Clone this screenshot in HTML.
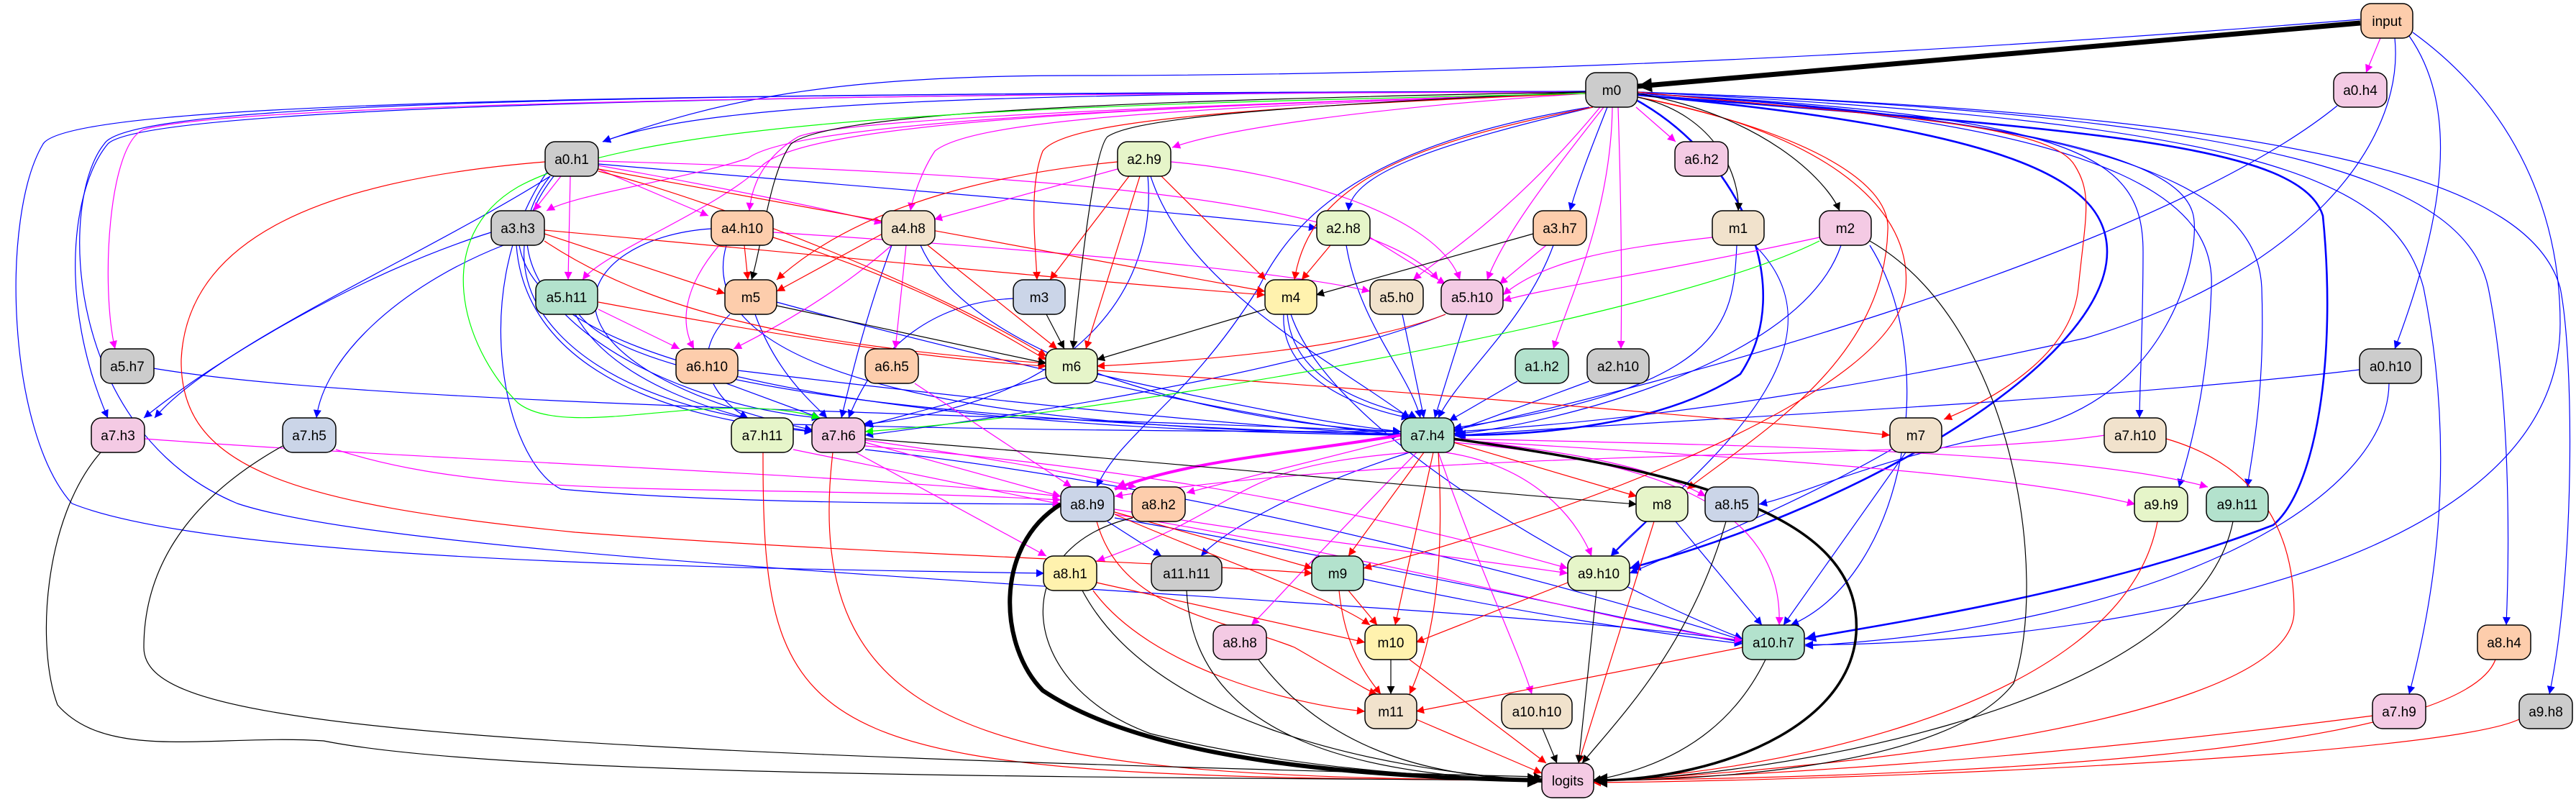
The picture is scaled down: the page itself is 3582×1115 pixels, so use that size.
<!DOCTYPE html>
<html><head><meta charset="utf-8"><style>html,body{margin:0;padding:0;background:#fff}svg{display:block}</style></head><body>
<svg width="3582" height="1115" viewBox="0 0 3582 1115" xmlns="http://www.w3.org/2000/svg">
<defs>
<marker id="B" viewBox="0 0 10 10" refX="10" refY="5" markerWidth="15" markerHeight="11" markerUnits="userSpaceOnUse" orient="auto"><path d="M0,0L10,5L0,10z" fill="#0000ff"/></marker>
<marker id="M" viewBox="0 0 10 10" refX="10" refY="5" markerWidth="15" markerHeight="11" markerUnits="userSpaceOnUse" orient="auto"><path d="M0,0L10,5L0,10z" fill="#ff00ff"/></marker>
<marker id="R" viewBox="0 0 10 10" refX="10" refY="5" markerWidth="15" markerHeight="11" markerUnits="userSpaceOnUse" orient="auto"><path d="M0,0L10,5L0,10z" fill="#ff0000"/></marker>
<marker id="K" viewBox="0 0 10 10" refX="10" refY="5" markerWidth="15" markerHeight="11" markerUnits="userSpaceOnUse" orient="auto"><path d="M0,0L10,5L0,10z" fill="#000"/></marker>
<marker id="G" viewBox="0 0 10 10" refX="10" refY="5" markerWidth="15" markerHeight="11" markerUnits="userSpaceOnUse" orient="auto"><path d="M0,0L10,5L0,10z" fill="#00ff00"/></marker>
<marker id="KL" viewBox="0 0 10 10" refX="10" refY="5" markerWidth="24" markerHeight="20" markerUnits="userSpaceOnUse" orient="auto"><path d="M0,0L10,5L0,10z" fill="#000"/></marker>
<marker id="ML" viewBox="0 0 10 10" refX="10" refY="5" markerWidth="20" markerHeight="16" markerUnits="userSpaceOnUse" orient="auto"><path d="M0,0L10,5L0,10z" fill="#ff00ff"/></marker>
<marker id="BL" viewBox="0 0 10 10" refX="10" refY="5" markerWidth="20" markerHeight="15" markerUnits="userSpaceOnUse" orient="auto"><path d="M0,0L10,5L0,10z" fill="#0000ff"/></marker>
</defs>

<g fill="none" stroke-width="1.2">
<g stroke="#0000ff" marker-end="url(#B)">
<path d="M3282,27 C2500,90 1900,105 1500,105 C1150,105 1000,140 838,197"/>
<path d="M3330,53 C3345,200 3200,380 2900,470 C2500,560 2200,590 2023,600"/>
<path d="M3350,50 C3420,150 3400,300 3330,485"/>
<path d="M3355,45 C3500,150 3560,300 3560,450 C3560,850 2700,900 2510,896"/>
<path d="M3250,147 C3000,350 2300,540 2021,598"/>
<path d="M3281,514 C2900,560 2200,590 2023,606"/>
<path d="M3322,533 C3320,700 3000,870 2510,898"/>
<path d="M2205,127 C1500,130 1000,135 838,197"/>
<path d="M2205,127 C1000,130 200,150 150,200 C100,260 80,420 150,581"/>
<path d="M2205,127 C900,130 100,140 60,200 C0,300 10,600 100,700 C300,780 1000,790 1452,797"/>
<path d="M2205,127 C900,130 180,140 145,200 C80,280 90,600 330,700 C600,790 2000,830 2423,891"/>
<path d="M2215,149 C2000,200 1880,240 1875,293"/>
<path d="M2210,149 C1900,200 1800,300 1750,400 C1650,560 1560,600 1525,677"/>
<path d="M2235,149 C2215,200 2195,250 2183,293"/>
<path d="M2277,130 C2900,160 2980,220 2980,350 C2980,450 2975,550 2975,581"/>
<path d="M2277,130 C2950,170 3040,250 3050,300 C3060,350 3020,560 2800,600 C2600,640 2500,690 2446,701"/>
<path d="M2277,130 C3000,170 3080,300 3075,400 C3070,550 3040,640 3030,677"/>
<path d="M2277,130 C3050,170 3140,300 3145,400 C3150,550 3130,640 3125,677"/>
<path d="M2277,128 C3150,170 3330,250 3370,400 C3420,650 3380,850 3350,965"/>
<path d="M2277,128 C3200,160 3430,260 3460,400 C3490,550 3490,750 3485,869"/>
<path d="M2277,128 C3250,160 3520,260 3560,400 C3580,500 3580,800 3545,965"/>
<path d="M832,228 C1200,260 1600,290 1831,317"/>
<path d="M765,245 C600,350 300,480 215,581"/>
<path d="M760,240 C650,400 700,640 780,680 C1000,700 1300,700 1475,701"/>
<path d="M770,245 C650,400 800,560 1100,590 C1500,600 1800,600 1948,600"/>
<path d="M765,245 C640,400 900,560 1140,581"/>
<path d="M683,323 C500,380 300,500 200,581"/>
<path d="M700,341 C550,400 450,500 440,581"/>
<path d="M718,341 C730,500 900,580 1130,600"/>
<path d="M722,341 C760,560 1500,600 1948,605"/>
<path d="M989,318 C800,330 700,500 1130,598"/>
<path d="M1010,341 C950,550 1500,600 1948,603"/>
<path d="M1600,245 C1650,400 1850,500 1960,581"/>
<path d="M1596,245 C1610,400 1500,560 1200,590"/>
<path d="M1240,341 C1200,450 1180,540 1170,581"/>
<path d="M1280,341 C1350,500 1700,590 1948,600"/>
<path d="M1872,341 C1890,450 1960,520 1975,581"/>
<path d="M2160,341 C2120,450 2030,520 2000,581"/>
<path d="M2415,341 C2410,450 2400,540 2021,595"/>
<path d="M2440,341 C2600,500 2300,700 2240,773"/>
<path d="M2560,341 C2500,520 2100,600 2021,603"/>
<path d="M2600,341 C2700,500 2650,800 2490,869"/>
<path d="M1409,415 C1300,420 1220,480 1180,581"/>
<path d="M1785,437 C1780,530 1900,570 1960,581"/>
<path d="M1790,437 C1800,550 1950,570 1970,581"/>
<path d="M1795,437 C1850,600 2200,800 2423,888"/>
<path d="M1950,437 L1980,581"/>
<path d="M2040,437 L1995,581"/>
<path d="M2010,437 C1800,520 1400,580 1203,605"/>
<path d="M1080,420 C1300,480 1700,580 1948,605"/>
<path d="M1015,437 C950,500 1000,560 1040,581"/>
<path d="M1050,437 C1080,520 1130,560 1150,581"/>
<path d="M800,437 C850,530 1000,580 1130,600"/>
<path d="M805,437 C900,560 1500,590 1948,605"/>
<path d="M213,512 C500,560 1200,570 1948,600"/>
<path d="M1026,515 C1400,560 1700,590 1948,605"/>
<path d="M1010,533 L1140,581"/>
<path d="M1455,525 L1203,592"/>
<path d="M1525,520 C1700,560 1850,590 1948,600"/>
<path d="M2110,530 L2015,585"/>
<path d="M2210,530 L2021,600"/>
<path d="M1203,625 C1700,680 2200,820 2423,890"/>
<path d="M1960,629 C1800,680 1700,740 1670,773"/>
<path d="M2630,625 C2500,700 2350,760 2266,797"/>
<path d="M2650,629 L2480,869"/>
<path d="M1540,725 L1615,773"/>
<path d="M1550,720 C2000,800 2300,870 2423,893"/>
<path d="M2290,725 L2240,773"/>
<path d="M2330,725 L2450,869"/>
<path d="M1896,805 C2100,850 2300,880 2423,895"/>
</g>
<g stroke="#0000ff" stroke-width="2.6" marker-end="url(#BL)">
<path d="M2277,140 C2420,220 2500,400 2420,520 C2300,600 2100,605 2023,605"/>
<path d="M2277,132 C2900,180 3200,200 3230,300 C3250,500 3220,680 3161,730 C2900,830 2600,870 2510,888"/>
<path d="M2277,132 C2800,180 2930,250 2930,350 C2930,500 2600,700 2266,790"/>
</g>
<g stroke="#ff00ff" marker-end="url(#M)">
<path d="M3310,53 L3290,101"/>
<path d="M2205,128 C1000,130 300,150 200,180 C150,200 140,400 160,485"/>
<path d="M2205,130 C1900,150 1700,180 1630,205"/>
<path d="M2205,130 C1600,150 1350,170 1300,210 C1280,240 1268,280 1266,293"/>
<path d="M2205,130 C1500,150 1160,170 1110,190 C1060,220 1045,260 1042,293"/>
<path d="M2205,130 C1500,150 1100,175 1040,220 C950,250 800,270 760,293"/>
<path d="M2205,130 C1500,150 1120,175 1060,230 C1000,290 840,350 810,389"/>
<path d="M2225,149 C2100,300 2000,360 1965,389"/>
<path d="M2230,149 C2150,250 2090,330 2068,389"/>
<path d="M2242,149 C2240,300 2180,420 2160,485"/>
<path d="M2250,149 C2255,300 2255,420 2254,485"/>
<path d="M2275,149 L2330,197"/>
<path d="M780,245 L742,293"/>
<path d="M793,245 L790,389"/>
<path d="M832,235 L985,300"/>
<path d="M832,224 C1400,240 1900,270 2000,389"/>
<path d="M832,230 C1000,260 1150,290 1227,310"/>
<path d="M1000,341 C950,400 945,450 965,485"/>
<path d="M1075,323 C1500,350 1800,380 1905,405"/>
<path d="M1554,235 L1299,305"/>
<path d="M1628,225 C1800,240 2000,300 2030,389"/>
<path d="M1260,341 L1245,485"/>
<path d="M1240,341 C1150,420 1050,470 1020,485"/>
<path d="M1905,330 L2010,395"/>
<path d="M2150,341 L2085,395"/>
<path d="M2381,330 C2250,345 2150,360 2090,410"/>
<path d="M2530,330 C2300,380 2150,400 2090,418"/>
<path d="M832,430 L945,485"/>
<path d="M1272,533 L1490,677"/>
<path d="M201,610 C600,640 1200,660 1475,690"/>
<path d="M467,625 C700,700 1000,670 1475,695"/>
<path d="M1103,625 L1475,701"/>
<path d="M1203,615 L1475,690"/>
<path d="M1190,629 L1455,773"/>
<path d="M1203,620 C1700,660 2000,740 2180,790"/>
<path d="M1203,612 C1400,640 1500,660 1580,677"/>
<path d="M1948,610 L1650,685"/>
<path d="M1960,629 C1700,650 1750,700 1525,780"/>
<path d="M1970,629 C1850,750 1760,850 1740,869"/>
<path d="M2000,629 C2060,800 2110,900 2130,965"/>
<path d="M2010,629 C2150,650 2200,740 2213,773"/>
<path d="M2021,610 C2200,630 2300,650 2372,690"/>
<path d="M2021,612 C2500,640 2800,660 2969,701"/>
<path d="M2021,610 C2500,620 2900,630 3070,677"/>
<path d="M2021,615 C2300,640 2480,700 2474,869"/>
<path d="M2927,605 C2700,640 2000,620 1550,690"/>
<path d="M1550,708 C1800,750 2000,770 2180,797"/>
<path d="M1550,715 C2000,790 2300,880 2423,890"/>
</g>
<path d="M1948,605 C1800,630 1650,640 1550,680" stroke="#ff00ff" stroke-width="4" marker-end="url(#ML)"/>
<g stroke="#ff0000" marker-end="url(#R)">
<path d="M2205,130 C1700,150 1480,170 1450,210 C1430,260 1440,340 1442,389"/>
<path d="M2215,149 C1950,200 1820,260 1800,389"/>
<path d="M2277,135 C2500,180 2630,250 2625,320 C2620,500 2450,600 2346,680"/>
<path d="M2277,135 C2520,180 2660,280 2650,400 C2640,560 2100,740 1896,790"/>
<path d="M2277,128 C2600,160 2850,170 2885,230 C2910,270 2900,300 2890,400 C2880,500 2760,560 2703,583"/>
<path d="M832,235 C1200,300 1500,360 1759,405"/>
<path d="M832,238 C1000,280 1300,400 1455,495"/>
<path d="M758,225 C450,250 260,330 252,500 C250,650 400,700 800,740 C1200,770 1600,780 1825,797"/>
<path d="M757,325 L1008,408"/>
<path d="M757,320 C1200,360 1500,390 1759,410"/>
<path d="M757,335 C900,430 1100,480 1455,505"/>
<path d="M1035,341 L1040,389"/>
<path d="M1075,330 C1300,400 1400,470 1455,500"/>
<path d="M1554,225 C1400,240 1200,280 1080,389"/>
<path d="M1570,245 L1460,389"/>
<path d="M1585,245 L1510,485"/>
<path d="M1615,245 L1760,389"/>
<path d="M1227,325 L1080,405"/>
<path d="M1290,341 L1470,485"/>
<path d="M1850,341 L1810,389"/>
<path d="M832,420 C1100,470 1300,500 1455,509"/>
<path d="M2010,437 C1900,480 1700,500 1525,509"/>
<path d="M1525,515 C1900,540 2400,580 2628,605"/>
<path d="M1061,629 C1060,1050 1120,1080 2144,1085"/>
<path d="M1158,629 C1110,1040 1400,1080 2144,1085"/>
<path d="M1980,629 L1875,773"/>
<path d="M1993,629 L1940,869"/>
<path d="M2000,629 C2010,800 1990,900 1960,965"/>
<path d="M2021,615 L2276,690"/>
<path d="M3012,610 C3150,650 3190,750 3190,850 C3190,1020 2400,1080 2215,1085"/>
<path d="M1550,712 L1825,790"/>
<path d="M1550,715 C1700,780 1850,830 1905,869"/>
<path d="M1525,725 C1560,850 1700,860 1800,900 C1870,940 1900,960 1915,965"/>
<path d="M2300,725 L2195,1061"/>
<path d="M3000,725 C2950,1000 2400,1080 2215,1085"/>
<path d="M1525,810 L1898,893"/>
<path d="M1520,821 C1600,930 1800,980 1898,989"/>
<path d="M1875,821 L1915,869"/>
<path d="M1862,821 C1870,900 1900,940 1920,965"/>
<path d="M2180,810 L1969,893"/>
<path d="M1960,917 L2150,1061"/>
<path d="M2423,900 L1969,989"/>
<path d="M1969,1000 L2144,1075"/>
<path d="M3300,995 C2800,1060 2400,1080 2215,1085"/>
<path d="M3470,917 C3420,1050 2700,1080 2215,1085"/>
<path d="M3503,1000 C3400,1050 2600,1085 2215,1088"/>
</g>
<g stroke="#000" marker-end="url(#K)">
<path d="M2205,128 C1700,150 1570,170 1540,190 C1520,210 1500,400 1492,485"/>
<path d="M2205,128 C1500,140 1150,160 1100,200 C1070,240 1060,340 1045,389"/>
<path d="M2277,135 C2390,160 2420,250 2417,293"/>
<path d="M2277,130 C2450,160 2540,250 2558,293"/>
<path d="M2132,325 L1830,410"/>
<path d="M2600,335 C2800,450 2850,800 2800,950 C2700,1080 2300,1085 2215,1085"/>
<path d="M1455,437 L1480,485"/>
<path d="M1759,430 L1525,500"/>
<path d="M1080,425 L1455,505"/>
<path d="M140,629 C60,720 50,900 80,980 C150,1060 300,1020 450,1030 C700,1080 1500,1080 2144,1085"/>
<path d="M393,620 C250,700 200,800 200,900 C200,1000 500,1040 2144,1080"/>
<path d="M1203,610 C1600,640 2000,680 2276,701"/>
<path d="M1575,720 C1400,760 1410,950 1600,1020 C1800,1070 2000,1080 2144,1085"/>
<path d="M2400,725 C2350,900 2250,1000 2200,1061"/>
<path d="M3105,725 C3050,1000 2400,1085 2215,1085"/>
<path d="M1505,821 C1600,1000 1900,1070 2144,1085"/>
<path d="M1650,821 C1660,1030 1900,1080 2144,1085"/>
<path d="M2220,821 L2195,1061"/>
<path d="M1750,917 C1850,1050 2000,1080 2144,1085"/>
<path d="M1934,917 L1934,965"/>
<path d="M2455,917 C2400,1030 2300,1070 2215,1085"/>
<path d="M2145,1013 L2165,1061"/>
</g>
<path d="M3282,32 L2277,120" stroke="#000" stroke-width="7" marker-end="url(#KL)"/>
<path d="M1475,701 C1380,760 1390,900 1450,960 C1600,1060 1900,1080 2144,1085" stroke="#000" stroke-width="6" marker-end="url(#KL)"/>
<path d="M2021,610 C2300,650 2560,700 2580,850 C2600,1000 2400,1085 2215,1085" stroke="#000" stroke-width="3.5" marker-end="url(#KL)"/>
<g stroke="#00ff00" marker-end="url(#G)">
<path d="M2205,130 C1500,145 900,160 720,260 C600,330 640,480 720,560 C770,600 900,570 1000,568 C1080,565 1120,575 1140,581"/>
<path d="M2530,335 C2300,450 1500,580 1203,600"/>
</g>
</g>

<g stroke="#000" stroke-width="1.5" font-family="Liberation Sans, sans-serif" font-size="19" text-anchor="middle">
<rect x="3283" y="5" width="72" height="48" rx="14" fill="#fdcdac"/><text x="3319" y="36" stroke="none">input</text>
<rect x="2205" y="101" width="72" height="48" rx="14" fill="#cccccc"/><text x="2241" y="132" stroke="none">m0</text>
<rect x="3245" y="101" width="74" height="48" rx="14" fill="#f4cae4"/><text x="3282" y="132" stroke="none">a0.h4</text>
<rect x="758" y="197" width="74" height="48" rx="14" fill="#cccccc"/><text x="795" y="228" stroke="none">a0.h1</text>
<rect x="1554" y="197" width="74" height="48" rx="14" fill="#e6f5c9"/><text x="1591" y="228" stroke="none">a2.h9</text>
<rect x="2329" y="197" width="74" height="48" rx="14" fill="#f4cae4"/><text x="2366" y="228" stroke="none">a6.h2</text>
<rect x="683" y="293" width="74" height="48" rx="14" fill="#cccccc"/><text x="720" y="324" stroke="none">a3.h3</text>
<rect x="989" y="293" width="86" height="48" rx="14" fill="#fdcdac"/><text x="1032" y="324" stroke="none">a4.h10</text>
<rect x="1226" y="293" width="74" height="48" rx="14" fill="#f1e2cc"/><text x="1263" y="324" stroke="none">a4.h8</text>
<rect x="1831" y="293" width="74" height="48" rx="14" fill="#e6f5c9"/><text x="1868" y="324" stroke="none">a2.h8</text>
<rect x="2132" y="293" width="74" height="48" rx="14" fill="#fdcdac"/><text x="2169" y="324" stroke="none">a3.h7</text>
<rect x="2381" y="293" width="72" height="48" rx="14" fill="#f1e2cc"/><text x="2417" y="324" stroke="none">m1</text>
<rect x="2530" y="293" width="72" height="48" rx="14" fill="#f4cae4"/><text x="2566" y="324" stroke="none">m2</text>
<rect x="745" y="389" width="86" height="48" rx="14" fill="#b3e2cd"/><text x="788" y="420" stroke="none">a5.h11</text>
<rect x="1008" y="389" width="72" height="48" rx="14" fill="#fdcdac"/><text x="1044" y="420" stroke="none">m5</text>
<rect x="1409" y="389" width="72" height="48" rx="14" fill="#cbd5e8"/><text x="1445" y="420" stroke="none">m3</text>
<rect x="1759" y="389" width="72" height="48" rx="14" fill="#fff2ae"/><text x="1795" y="420" stroke="none">m4</text>
<rect x="1905" y="389" width="74" height="48" rx="14" fill="#f1e2cc"/><text x="1942" y="420" stroke="none">a5.h0</text>
<rect x="2004" y="389" width="86" height="48" rx="14" fill="#f4cae4"/><text x="2047" y="420" stroke="none">a5.h10</text>
<rect x="140" y="485" width="74" height="48" rx="14" fill="#cccccc"/><text x="177" y="516" stroke="none">a5.h7</text>
<rect x="940" y="485" width="86" height="48" rx="14" fill="#fdcdac"/><text x="983" y="516" stroke="none">a6.h10</text>
<rect x="1203" y="485" width="74" height="48" rx="14" fill="#fdcdac"/><text x="1240" y="516" stroke="none">a6.h5</text>
<rect x="1454" y="485" width="72" height="48" rx="14" fill="#e6f5c9"/><text x="1490" y="516" stroke="none">m6</text>
<rect x="2107" y="485" width="74" height="48" rx="14" fill="#b3e2cd"/><text x="2144" y="516" stroke="none">a1.h2</text>
<rect x="2207" y="485" width="86" height="48" rx="14" fill="#cccccc"/><text x="2250" y="516" stroke="none">a2.h10</text>
<rect x="3281" y="485" width="86" height="48" rx="14" fill="#cccccc"/><text x="3324" y="516" stroke="none">a0.h10</text>
<rect x="127" y="581" width="74" height="48" rx="14" fill="#f4cae4"/><text x="164" y="612" stroke="none">a7.h3</text>
<rect x="393" y="581" width="74" height="48" rx="14" fill="#cbd5e8"/><text x="430" y="612" stroke="none">a7.h5</text>
<rect x="1017" y="581" width="86" height="48" rx="14" fill="#e6f5c9"/><text x="1060" y="612" stroke="none">a7.h11</text>
<rect x="1129" y="581" width="74" height="48" rx="14" fill="#f4cae4"/><text x="1166" y="612" stroke="none">a7.h6</text>
<rect x="1948" y="581" width="74" height="48" rx="14" fill="#b3e2cd"/><text x="1985" y="612" stroke="none">a7.h4</text>
<rect x="2628" y="581" width="72" height="48" rx="14" fill="#f1e2cc"/><text x="2664" y="612" stroke="none">m7</text>
<rect x="2926" y="581" width="86" height="48" rx="14" fill="#f1e2cc"/><text x="2969" y="612" stroke="none">a7.h10</text>
<rect x="1475" y="677" width="74" height="48" rx="14" fill="#cbd5e8"/><text x="1512" y="708" stroke="none">a8.h9</text>
<rect x="1574" y="677" width="74" height="48" rx="14" fill="#fdcdac"/><text x="1611" y="708" stroke="none">a8.h2</text>
<rect x="2275" y="677" width="72" height="48" rx="14" fill="#e6f5c9"/><text x="2311" y="708" stroke="none">m8</text>
<rect x="2371" y="677" width="74" height="48" rx="14" fill="#cbd5e8"/><text x="2408" y="708" stroke="none">a8.h5</text>
<rect x="2968" y="677" width="74" height="48" rx="14" fill="#e6f5c9"/><text x="3005" y="708" stroke="none">a9.h9</text>
<rect x="3068" y="677" width="86" height="48" rx="14" fill="#b3e2cd"/><text x="3111" y="708" stroke="none">a9.h11</text>
<rect x="1451" y="773" width="74" height="48" rx="14" fill="#fff2ae"/><text x="1488" y="804" stroke="none">a8.h1</text>
<rect x="1601" y="773" width="98" height="48" rx="14" fill="#cccccc"/><text x="1650" y="804" stroke="none">a11.h11</text>
<rect x="1824" y="773" width="72" height="48" rx="14" fill="#b3e2cd"/><text x="1860" y="804" stroke="none">m9</text>
<rect x="2180" y="773" width="86" height="48" rx="14" fill="#e6f5c9"/><text x="2223" y="804" stroke="none">a9.h10</text>
<rect x="1687" y="869" width="74" height="48" rx="14" fill="#f4cae4"/><text x="1724" y="900" stroke="none">a8.h8</text>
<rect x="1898" y="869" width="72" height="48" rx="14" fill="#fff2ae"/><text x="1934" y="900" stroke="none">m10</text>
<rect x="2423" y="869" width="86" height="48" rx="14" fill="#b3e2cd"/><text x="2466" y="900" stroke="none">a10.h7</text>
<rect x="3445" y="869" width="74" height="48" rx="14" fill="#fdcdac"/><text x="3482" y="900" stroke="none">a8.h4</text>
<rect x="1898" y="965" width="72" height="48" rx="14" fill="#f1e2cc"/><text x="1934" y="996" stroke="none">m11</text>
<rect x="2088" y="965" width="98" height="48" rx="14" fill="#f1e2cc"/><text x="2137" y="996" stroke="none">a10.h10</text>
<rect x="3299" y="965" width="74" height="48" rx="14" fill="#f4cae4"/><text x="3336" y="996" stroke="none">a7.h9</text>
<rect x="3503" y="965" width="74" height="48" rx="14" fill="#cccccc"/><text x="3540" y="996" stroke="none">a9.h8</text>
<rect x="2144" y="1061" width="72" height="48" rx="14" fill="#f4cae4"/><text x="2180" y="1092" stroke="none">logits</text>
</g>
</svg>
</body></html>
